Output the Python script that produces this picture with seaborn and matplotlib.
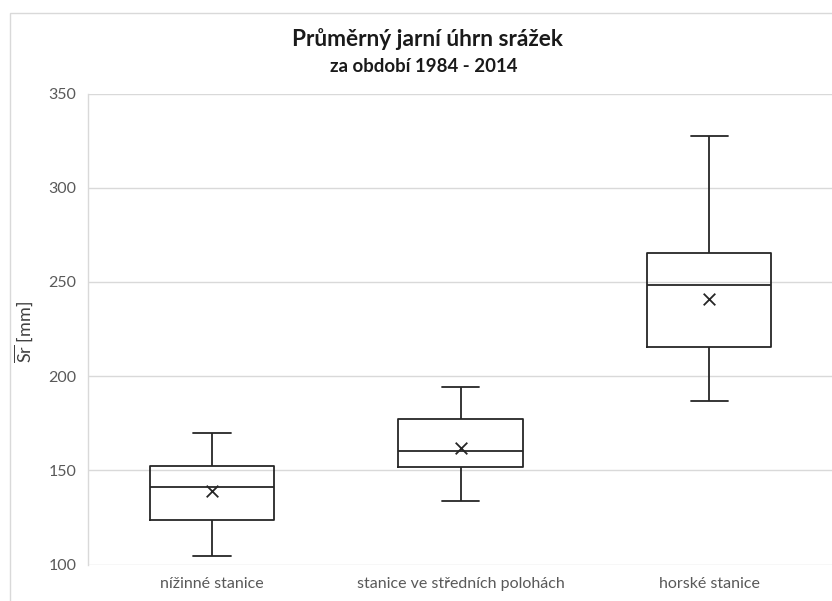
import matplotlib
matplotlib.use("Agg")
import matplotlib.pyplot as plt
import matplotlib.patches as mpatches
import seaborn as sns
import pandas as pd

# summary statistics
categories = ["nížinné stanice", "stanice ve středních polohách", "horské stanice"]
whisker_low = [104.5, 133.5, 186.7]
q1 = [123.5, 151.6, 215.7]
median = [141.0, 160.5, 248.3]
q3 = [152.5, 177.0, 265.4]
whisker_high = [170.0, 194.3, 327.3]
means = [139.0, 162.0, 241.0]
y_ticks = [100, 150, 200, 250, 300, 350]

sns.set_theme(style="white")
plt.rcParams['font.family'] = ['Lato', 'DejaVu Sans']
plt.rcParams['mathtext.fontset'] = 'custom'
plt.rcParams['mathtext.rm'] = 'Lato'

# five-number summary per group -> boxplot with whiskers at min/max
rows = []
for i, cat in enumerate(categories):
    for v in (whisker_low[i], q1[i], median[i], q3[i], whisker_high[i]):
        rows.append({"stanice": cat, "srazky": v})
df = pd.DataFrame(rows)

fig = plt.figure(figsize=(8.32, 6.01), dpi=100)
ax = fig.add_axes([87.5 / 832, 1 - 564.5 / 601, (832 - 87.5) / 832 + 0.002, (564.5 - 93.5) / 601])

line_kw = dict(color="#262626", linewidth=1.3)
sns.boxplot(data=df, x="stanice", y="srazky", order=categories, whis=(0, 100),
            width=0.5, fill=False, color="#262626", linewidth=1.3,
            boxprops=line_kw, medianprops=line_kw, whiskerprops=line_kw,
            capprops=line_kw, showcaps=True, ax=ax)
# shrink caps to Excel-like width
for line in ax.lines:
    xd = line.get_xdata()
    if len(xd) == 2 and xd[0] != xd[1]:
        yd = line.get_ydata()
        if yd[0] == yd[1]:
            c = (xd[0] + xd[1]) / 2
            lo, hi = min(xd), max(xd)
            if hi - lo < 0.3:
                line.set_xdata([c - 0.075, c + 0.075])

sns.scatterplot(x=categories, y=means, marker="x", color="#262626", s=70,
                linewidth=1.3, ax=ax, zorder=5)

ax.set_xlim(-0.5, 2.5)
ax.set_ylim(100, 350)
ax.set_yticks(y_ticks)
ax.yaxis.grid(True, color="#d9d9d9", linewidth=1.0)
ax.set_axisbelow(True)
for s in ["top", "right", "bottom"]:
    ax.spines[s].set_visible(False)
ax.spines["left"].set_color("#d9d9d9")
ax.spines["left"].set_linewidth(1.0)
ax.tick_params(axis="both", length=0, labelsize=11.5, colors="#595959", pad=8)
ax.tick_params(axis="x", pad=9)
ax.set_xlabel("")
ax.set_ylabel(r"$\overline{\mathrm{Sr}}$ [mm]", fontsize=13, color="#404040")
ax.yaxis.set_label_coords((35 - 87.5) / 744, 0.494)

# title
fig.text(427 / 832, 1 - 46.5 / 601, "Průměrný jarní úhrn srážek", ha="center", va="baseline",
         fontsize=16.3, fontweight="bold", color="#1a1a1a")
fig.text(424 / 832, 1 - 72 / 601, "za období 1984 - 2014", ha="center", va="baseline",
         fontsize=13.4, fontweight="bold", color="#1a1a1a")

# outer chart border
fig.patches.append(mpatches.Rectangle((9.5 / 832, -0.1), 1.2, 1 - 12.5 / 601 + 0.1,
                                      transform=fig.transFigure, fill=False,
                                      edgecolor="#d9d9d9", linewidth=1.0))

fig.savefig("out.png", dpi=100)
